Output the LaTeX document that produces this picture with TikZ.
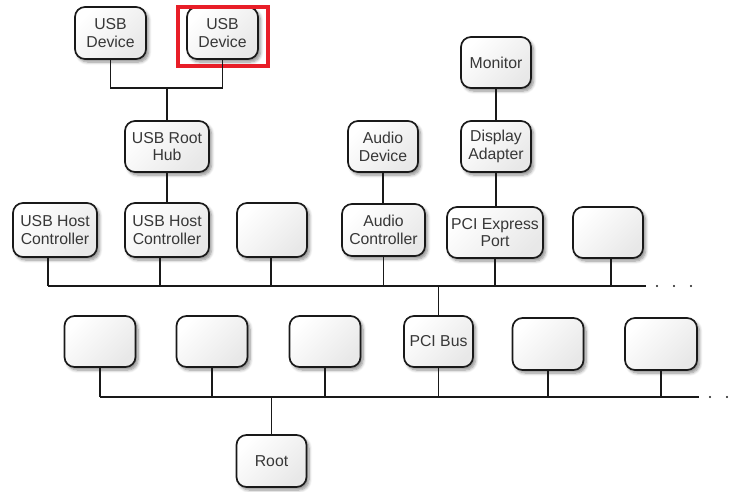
\documentclass[tikz,border=0pt]{standalone}
\usepackage{fontspec}
\setmainfont{Liberation Sans}
\usetikzlibrary{shadows.blur}
\definecolor{hl}{RGB}{232,30,40}
\definecolor{txt}{RGB}{55,55,55}
\definecolor{ln}{RGB}{25,25,25}
\begin{document}
\begin{tikzpicture}[x=1pt,y=-1pt,
  box/.style={draw=ln, line width=1.7pt, rounded corners=10pt, align=center,
    font=\fontsize{15.8}{17.8}\selectfont, text=txt, inner sep=0pt,
    top color=white, bottom color=black!9, shading angle=45,
    blur shadow={shadow xshift=2.5pt, shadow yshift=-3pt, shadow blur radius=3pt, shadow blur steps=6, shadow opacity=45}},
  conn/.style={draw=ln, line width=1.1pt},
  dotf/.style={fill=ln}]
\useasboundingbox (0,0) rectangle (737,491);
% top row
\node[box, minimum width=71pt, minimum height=52pt] (usbd1) at (110.5,33) {USB\\Device};
\node[box, minimum width=71pt, minimum height=52pt] (usbd2) at (222.5,33) {USB\\Device};
\node[box, minimum width=70pt, minimum height=51pt] (mon) at (496,62.5) {Monitor};
% second row
\node[box, minimum width=84pt, minimum height=51pt] (hub) at (167,146.5) {USB Root\\Hub};
\node[box, minimum width=70pt, minimum height=51pt] (adev) at (383,146.5) {Audio\\Device};
\node[box, minimum width=70pt, minimum height=51pt] (dadp) at (496,146.5) {Display\\Adapter};
% third row
\node[box, minimum width=84pt, minimum height=54pt] (hc1) at (55,230) {USB Host\\Controller};
\node[box, minimum width=84pt, minimum height=54pt] (hc2) at (167,230) {USB Host\\Controller};
\node[box, minimum width=70pt, minimum height=54pt] (e1) at (272,230) {};
\node[box, minimum width=83pt, minimum height=52pt] (actl) at (383.5,230) {Audio\\Controller};
\node[box, minimum width=96pt, minimum height=51pt] (pcie) at (495,232.5) {PCI Express\\Port};
\node[box, minimum width=70pt, minimum height=51pt] (e2) at (608,232.5) {};
% fourth row
\node[box, minimum width=71pt, minimum height=51pt] (b1) at (100,341.5) {};
\node[box, minimum width=71pt, minimum height=51pt] (b2) at (212,341.5) {};
\node[box, minimum width=71pt, minimum height=51pt] (b3) at (325,341.5) {};
\node[box, minimum width=69pt, minimum height=51pt] (pcib) at (438.5,341.5) {PCI Bus};
\node[box, minimum width=71pt, minimum height=52pt] (b5) at (548,344) {};
\node[box, minimum width=72pt, minimum height=52pt] (b6) at (661,344) {};
% root
\node[box, minimum width=70pt, minimum height=52pt] (root) at (271.5,461) {Root};
% highlight
\draw[hl, line width=4pt] (178,7) rectangle (268,66);
% connectors top
\coordinate (usbj) at (167,88);
\draw[conn] (usbd1.south) |- (usbj) -| (usbd2.south);
\draw[conn] (usbj) -- (hub.north);
\draw[conn] (hub.south) -- (hc2.north);
\draw[conn] (adev.south) -- (adev.south |- actl.north);
\draw[conn] (mon.south) -- (dadp.north);
\draw[conn] (dadp.south) -- (dadp.south |- pcie.north);
% bus 1
\coordinate (bus1L) at (48,286);
\coordinate (bus1R) at (646,286);
\draw[conn] (bus1L) -- (bus1R);
\foreach \n/\d in {hc1/-7,hc2/-7,e1/-1,actl/0,pcie/0,e2/3}
  \draw[conn] ([xshift=\d pt]\n.south) -- ([xshift=\d pt]\n.south |- bus1L);
\foreach \x in {657,674,691} \fill[dotf] (\x,286) circle (1.1pt);
\draw[conn] (pcib.north |- bus1L) -- (pcib.north);
% bus 2
\coordinate (bus2L) at (100,397);
\coordinate (bus2R) at (699,397);
\draw[conn] (bus2L) -- (bus2R);
\foreach \n in {b1,b2,b3,pcib,b5,b6}
  \draw[conn] (\n.south) -- (\n.south |- bus2L);
\foreach \x in {710,727} \fill[dotf] (\x,397) circle (1.1pt);
\draw[conn] (root.north) -- (root.north |- bus2L);
\end{tikzpicture}
\end{document}
